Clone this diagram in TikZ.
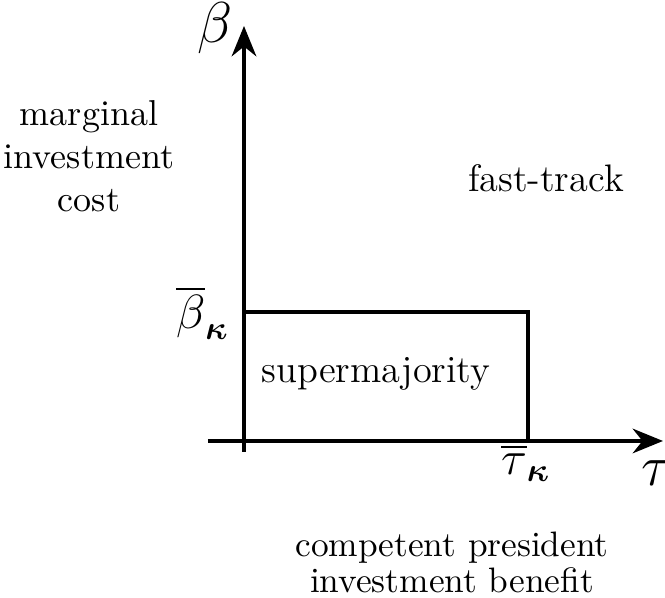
\documentclass[tikz,border=0pt]{standalone}
\usepackage{amsmath,amssymb,bm}
\usetikzlibrary{arrows.meta,positioning}
\tikzset{
  axis/.style={draw=black,line width=1pt,-{Stealth[length=3.2mm,width=2.6mm]}},
  region/.style={draw=black,line width=1pt},
  txt/.style={font=\fontsize{11.5}{13}\selectfont,align=center,inner sep=0pt,anchor=base},
  axlabel/.style={font=\fontsize{16.5}{18}\selectfont,inner sep=0pt},
  barlabel/.style={font=\fontsize{14}{16}\selectfont,inner sep=0pt}
}

\begin{document}
\begin{tikzpicture}[x=0.3pt,y=0.3pt]
  \useasboundingbox (0,0) rectangle (665,598);
  \coordinate (O) at (244,157);
  \coordinate (ybot) at (244,146);
  \coordinate (ytop) at (244,572);
  \coordinate (xleft) at (208,157);
  \coordinate (xright) at (663,157);
  \coordinate (Bk) at (244,286);
  \coordinate (C) at (528,286);
  \coordinate (Tk) at (528,157);

  \draw[axis] (ybot) -- (ytop);
  \draw[axis] (xleft) -- (xright);
  \draw[region] (Bk) -- (C) -- (Tk);

  \node[axlabel] (beta) at (215,570) {$\beta$};
  \node[axlabel] (tau) at (657,125) {$\tau$};
  \node[barlabel,anchor=east] (betabar) at (230,285) {$\overline{\beta}_{\bm{\kappa}}$};
  \node[barlabel] (taubar) at (526,135) {$\overline{\tau}_{\bm{\kappa}}$};
  \node[txt] (super) at (376,215) {supermajority};
  \node[txt] (fast) at (546,406) {fast-track};
  \node[txt,font=\fontsize{10.8}{13}\selectfont] (ylab) at (89,386)
    {marginal\\investment\\cost};
  \node[txt,font=\fontsize{10.6}{11}\selectfont] (xlab) at (452,5)
    {competent president\\investment benefit};
\end{tikzpicture}
\end{document}
